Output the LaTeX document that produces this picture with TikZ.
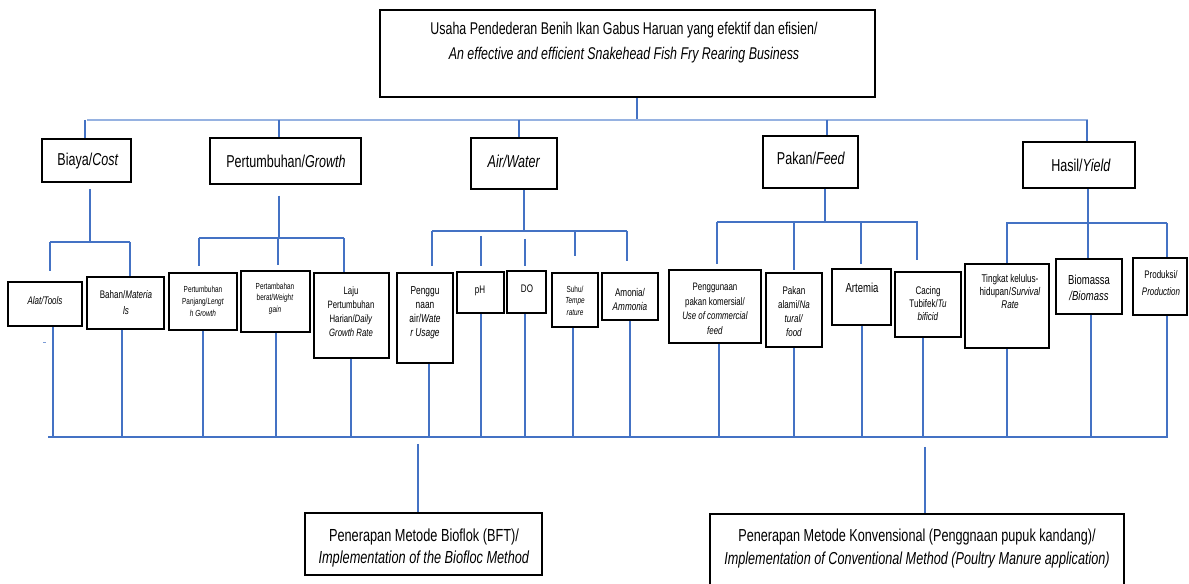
\documentclass[tikz,border=0pt]{standalone}
\usepackage{fontspec}
\setmainfont{Liberation Sans}[FakeStretch=0.73]
\usetikzlibrary{fit}
\definecolor{cblue}{RGB}{68,114,196}
\definecolor{lblue}{RGB}{150,178,225}
\tikzset{
  box/.style={draw=black, line width=1.5pt, inner sep=0pt, rectangle},
  conn/.style={draw=cblue, line width=1.1pt},
  topbus/.style={draw=lblue, line width=1.1pt},
  botbus/.style={draw=cblue, line width=1.6pt},
  txt/.style={inner sep=0pt, align=center, text=black},
}
\newcommand\fs[2]{\fontsize{#1}{#2}\selectfont}
\begin{document}
\begin{tikzpicture}[x=0.75pt,y=-0.75pt]
\useasboundingbox (0,0) rectangle (1189,584);
\fill[white] (0,0) rectangle (1189,584);

% ---------- boxes ----------
\node[box, fit={(380,10) (875,97)}] (title) {};
\node[txt, font=\fs{12.75}{18.75}] (title-t) at (624,42.5)
  {Usaha Pendederan Benih Ikan Gabus Haruan yang efektif dan efisien/\\\textit{An effective and efficient Snakehead Fish Fry Rearing Business}};

\node[box, fit={(42,139) (131,182)}] (biaya) {};
\node[txt, font=\fs{12.9}{15}] (biaya-t) at (88,161) {Biaya/\textit{Cost}};
\node[box, fit={(210,138) (361,184)}] (pert) {};
\node[txt, font=\fs{12.9}{15}] (pert-t) at (286,161) {Pertumbuhan/\textit{Growth}};
\node[box, fit={(471,138) (557,189)}] (air) {};
\node[txt, font=\fs{12.9}{15}] (air-t) at (514,161) {\textit{Air/Water}};
\node[box, fit={(763,136) (858,188)}] (pakan) {};
\node[txt, font=\fs{12.9}{15}] (pakan-t) at (811,158) {Pakan/\textit{Feed}};
\node[box, fit={(1023,142) (1135,188)}] (hasil) {};
\node[txt, font=\fs{12.9}{15}] (hasil-t) at (1081,165) {Hasil/\textit{Yield}};

\node[box, fit={(8,282) (82,326)}] (alat) {};
\node[txt, font=\fs{8.25}{12}] (alat-t) at (45,301) {\textit{Alat/Tools}};
\node[box, fit={(87,277) (164,329)}] (bahan) {};
\node[txt, font=\fs{8.25}{12}] (bahan-t) at (126,303) {Bahan/\textit{Materia}\\\textit{ls}};
\node[box, fit={(169,273) (237,330)}] (ppanjang) {};
\node[txt, font=\fs{6.6}{9}] (ppanjang-t) at (203,301) {Pertumbuhan\\Panjang/\textit{Lengt}\\\textit{h Growth}};
\node[box, fit={(241,271) (310,332)}] (pberat) {};
\node[txt, font=\fs{6.6}{8.6}] (pberat-t) at (275,298.5) {Pertambahan\\berat/\textit{Weight}\\\textit{gain}};
\node[box, fit={(314,273) (389,358)}] (laju) {};
\node[txt, font=\fs{8}{10.5}] (laju-t) at (351,311.5) {Laju\\Pertumbuhan\\Harian/\textit{Daily}\\\textit{Growth Rate}};

\node[box, fit={(397,273) (453,363)}] (pair) {};
\node[txt, font=\fs{8.6}{10.5}] (pair-t) at (425,312.5) {Penggu\\naan\\air/\textit{Wate}\\\textit{r Usage}};
\node[box, fit={(457,272) (504,313)}] (ph) {};
\node[txt, font=\fs{8.25}{10}] (ph-t) at (480,291) {pH};
\node[box, fit={(507,271) (546,313)}] (do) {};
\node[txt, font=\fs{8.25}{10}] (do-t) at (527,289) {DO};
\node[box, fit={(552,273) (598,327)}] (suhu) {};
\node[txt, font=\fs{6.6}{8.6}] (suhu-t) at (575,300.5) {Suhu/\\\textit{Tempe}\\\textit{rature}};
\node[box, fit={(602,273) (658,320)}] (amonia) {};
\node[txt, font=\fs{8.4}{10.5}] (amonia-t) at (630,299) {Amonia/\\\textit{Ammonia}};

\node[box, fit={(669,270) (761,343)}] (ppakan) {};
\node[txt, font=\fs{8.1}{11}] (ppakan-t) at (715,309) {Penggunaan\\pakan komersial/\\\textit{Use of commercial}\\\textit{feed}};
\node[box, fit={(766,273) (822,347)}] (palami) {};
\node[txt, font=\fs{8.25}{10.5}] (palami-t) at (794,312) {Pakan\\alami/\textit{Na}\\\textit{tural/}\\\textit{food}};
\node[box, fit={(832,269) (891,325)}] (artemia) {};
\node[txt, font=\fs{9.8}{12}] (artemia-t) at (862,288) {Artemia};
\node[box, fit={(895,272) (961,337)}] (cacing) {};
\node[txt, font=\fs{8.25}{10}] (cacing-t) at (928,303.5) {Cacing\\Tubifek/\textit{Tu}\\\textit{bificid}};

\node[box, fit={(965,264) (1049,348)}] (tingkat) {};
\node[txt, font=\fs{8.4}{9.4}] (tingkat-t) at (1010,291.5) {Tingkat kelulus-\\hidupan/\textit{Survival}\\\textit{Rate}};
\node[box, fit={(1056,259) (1122,314)}] (biomassa) {};
\node[txt, font=\fs{9.75}{12}] (biomassa-t) at (1089,288) {Biomassa\\\textit{/Biomass}};
\node[box, fit={(1133,258) (1187,315)}] (produksi) {};
\node[txt, font=\fs{8.2}{12.75}] (produksi-t) at (1161,283.5) {Produksi/\\\textit{Production}};

\node[box, fit={(305,513) (542,575)}] (bft) {};
\node[txt, font=\fs{13.1}{16.5}] (bft-t) at (424,548) {Penerapan Metode Bioflok (BFT)/\\\textit{Implementation of the Biofloc Method}};
\node[box, fit={(710,514) (1124,600)}] (konv) {};
\node[txt, font=\fs{13}{17.25}] (konv-t) at (917,548.5) {Penerapan Metode Konvensional (Penggnaan pupuk kandang)/\\\textit{Implementation of Conventional Method (Poultry Manure application)}};

% ---------- top level ----------
\coordinate (tbL) at (87,120);
\coordinate (tbR) at (1088,120);
\draw[conn] (title.south -| 637,0) -- (tbL -| 637,0);
\draw[topbus] (tbL) -- (tbR);
\draw[conn] (tbL -| 85,0) -- (biaya.north -| 85,0);
\draw[conn] (tbL -| 279,0) -- (pert.north -| 279,0);
\draw[conn] (tbL -| 519,0) -- (air.north -| 519,0);
\draw[conn] (tbL -| 827,0) -- (pakan.north -| 827,0);
\draw[conn] (tbL -| 1087,0) -- (hasil.north -| 1087,0);

% ---------- Biaya ----------
\coordinate (b1) at (90,242);
\draw[conn, shorten <=4.5pt] (biaya.south -| b1) -- (b1);
\draw[conn] (50,242) -- (130,242);
\draw[conn, shorten >=7.5pt] (50,242) -- (alat.north -| 50,0);
\draw[conn] (130,242) -- (bahan.north -| 130,0);

% ---------- Pertumbuhan ----------
\coordinate (p1) at (279,238);
\draw[conn, shorten <=8pt] (pert.south -| p1) -- (p1);
\draw[conn] (199,238) -- (344,238);
\draw[conn, shorten >=4.5pt] (199,238) -- (ppanjang.north -| 199,0);
\draw[conn, shorten >=3.75pt] (278,238) -- (pberat.north -| 278,0);
\draw[conn] (344,238) -- (laju.north -| 344,0);

% ---------- Air ----------
\coordinate (a1) at (524,231);
\draw[conn] (air.south -| a1) -- (a1);
\draw[conn] (432,231) -- (627,231);
\draw[conn, shorten >=4.5pt] (432,231) -- (pair.north -| 432,0);
\draw[conn, shorten <=3.75pt, shorten >=3.75pt] (481,231) -- (ph.north -| 481,0);
\draw[conn, shorten <=6pt, shorten >=3pt] (525,231) -- (do.north -| 525,0);
\draw[conn, shorten >=12pt] (575,231) -- (suhu.north -| 575,0);
\draw[conn, shorten >=8.25pt] (627,231) -- (amonia.north -| 627,0);

% ---------- Pakan ----------
\coordinate (k1) at (825,222);
\draw[conn] (pakan.south -| k1) -- (k1);
\draw[conn] (717,222) -- (918,222);
\draw[conn, shorten >=3.75pt] (717,222) -- (ppakan.north -| 717,0);
\draw[conn, shorten >=1.5pt] (794,222) -- (palami.north -| 794,0);
\draw[conn, shorten >=3pt] (861,222) -- (artemia.north -| 861,0);
\draw[conn, shorten >=8.25pt] (917,222) -- (cacing.north -| 917,0);

% ---------- Hasil ----------
\coordinate (h1) at (1088,223);
\draw[conn] (hasil.south -| h1) -- (h1);
\draw[conn] (1006,223) -- (1167,223);
\draw[conn] (1007,223) -- (tingkat.north -| 1007,0);
\draw[conn] (1088,223) -- (biomassa.north -| 1088,0);
\draw[conn] (1167,223) -- (produksi.north -| 1167,0);

% ---------- bottom bus ----------
\coordinate (bbL) at (48,437);
\coordinate (bbR) at (1168,437);
\draw[botbus] (bbL) -- (bbR);
\draw[conn] (alat.south -| 53,0) -- (bbL -| 53,0);
\draw[conn] (bahan.south -| 122,0) -- (bbL -| 122,0);
\draw[conn] (ppanjang.south -| 203,0) -- (bbL -| 203,0);
\draw[conn] (pberat.south -| 276,0) -- (bbL -| 276,0);
\draw[conn] (laju.south -| 351,0) -- (bbL -| 351,0);
\draw[conn] (pair.south -| 429,0) -- (bbL -| 429,0);
\draw[conn] (ph.south -| 481,0) -- (bbL -| 481,0);
\draw[conn] (do.south -| 525,0) -- (bbL -| 525,0);
\draw[conn] (suhu.south -| 573,0) -- (bbL -| 573,0);
\draw[conn] (amonia.south -| 630,0) -- (bbL -| 630,0);
\draw[conn] (ppakan.south -| 719,0) -- (bbL -| 719,0);
\draw[conn] (palami.south -| 794,0) -- (bbL -| 794,0);
\draw[conn] (artemia.south -| 862,0) -- (bbL -| 862,0);
\draw[conn] (cacing.south -| 923,0) -- (bbL -| 923,0);
\draw[conn] (tingkat.south -| 1007,0) -- (bbL -| 1007,0);
\draw[conn] (biomassa.south -| 1091,0) -- (bbL -| 1091,0);
\draw[conn] (produksi.south -| 1167,0) -- (bbR -| 1167,0);

\draw[conn, shorten <=5.25pt] (bbL -| 418,0) -- (bft.north -| 418,0);
\draw[conn, shorten <=7.5pt] (bbL -| 925,0) -- (konv.north -| 925,0);

% stray mark
\draw[cblue!70, line width=0.6pt] (43,342) -- (46,342);
\end{tikzpicture}
\end{document}
